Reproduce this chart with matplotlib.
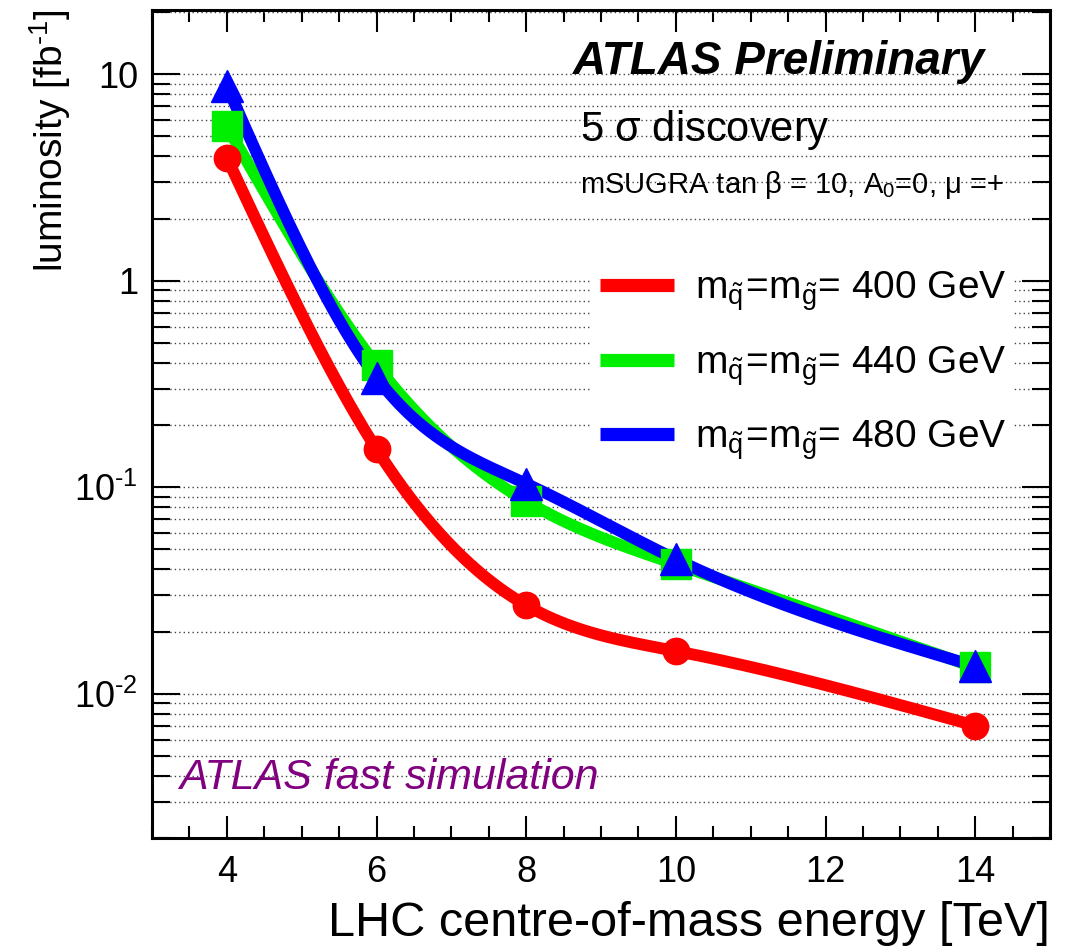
import matplotlib
matplotlib.use("Agg")
import matplotlib.pyplot as plt
from matplotlib.ticker import LogLocator, MultipleLocator, FixedLocator, FixedFormatter, NullFormatter
import numpy as np

plt.rcParams['font.family'] = ['Liberation Sans', 'DejaVu Sans']
plt.rcParams['mathtext.fontset'] = 'custom'
plt.rcParams['mathtext.rm'] = 'Liberation Sans'
plt.rcParams['mathtext.it'] = 'Liberation Sans:italic'
plt.rcParams['mathtext.bf'] = 'Liberation Sans:bold'

# centre-of-mass energy [TeV]
energy = [4, 6, 8, 10, 14]
# 5 sigma discovery luminosity [fb^-1]
lumi_400 = [3.95, 0.153, 0.0268, 0.0161, 0.0070]
lumi_440 = [5.6, 0.39, 0.0855, 0.0424, 0.0134]
lumi_480 = [8.8, 0.34, 0.104, 0.0448, 0.0136]
labels = [r'$\mathrm{m}_{\tilde{\mathrm{q}}}\!=\!\mathrm{m}_{\tilde{\mathrm{g}}}$= 400 GeV',
          r'$\mathrm{m}_{\tilde{\mathrm{q}}}\!=\!\mathrm{m}_{\tilde{\mathrm{g}}}$= 440 GeV',
          r'$\mathrm{m}_{\tilde{\mathrm{q}}}\!=\!\mathrm{m}_{\tilde{\mathrm{g}}}$= 480 GeV']
ytick_vals = [0.01, 0.1, 1, 10]
ytick_labels = [r'10$^{\text{-}2}$', r'10$^{\text{-}1}$', '1', '10']


def smooth(x, y, n=300):
    # natural cubic spline in (x, log y), like ROOT's "C" draw option
    x = np.asarray(x, float)
    ly = np.log10(np.asarray(y, float))
    h = np.diff(x)
    m = len(x)
    A = np.zeros((m, m))
    b = np.zeros(m)
    A[0, 0] = A[-1, -1] = 1
    for i in range(1, m - 1):
        A[i, i - 1] = h[i - 1]
        A[i, i] = 2 * (h[i - 1] + h[i])
        A[i, i + 1] = h[i]
        b[i] = 6 * ((ly[i + 1] - ly[i]) / h[i] - (ly[i] - ly[i - 1]) / h[i - 1])
    M = np.linalg.solve(A, b)
    xs = np.linspace(x[0], x[-1], n)
    k = np.clip(np.searchsorted(x, xs) - 1, 0, m - 2)
    t0 = x[k + 1] - xs
    t1 = xs - x[k]
    hk = h[k]
    ys = (M[k] * t0**3 + M[k + 1] * t1**3) / (6 * hk) \
        + (ly[k] / hk - M[k] * hk / 6) * t0 + (ly[k + 1] / hk - M[k + 1] * hk / 6) * t1
    return xs, 10**ys


fig = plt.figure(figsize=(10.65, 9.48), dpi=100)
ax = fig.add_axes([0.1427, 0.116, 0.8433, 0.8735])
ax.set_yscale('log')
ax.set_xlim(3, 15)
ax.set_ylim(0.002, 20.5)

series = [(lumi_400, '#ff0000', 'o', 19),
          (lumi_440, '#00ee00', 's', 21),
          (lumi_480, '#0000ff', '^', 23)]
handles = []
for (vals, col, mk, ms), lab in zip(series, labels):
    xs, ys = smooth(energy, vals)
    ax.plot(xs, ys, color=col, lw=8.5, solid_capstyle='round', zorder=3)
    ax.plot(energy, vals, ls='none', marker=mk, ms=ms, color=col, zorder=4)
    h, = ax.plot([], [], color=col, lw=9.5, solid_capstyle='butt', label=lab)
    handles.append(h)

# axes styling
ax.xaxis.set_major_locator(MultipleLocator(2))
ax.xaxis.set_minor_locator(MultipleLocator(0.5))
ax.yaxis.set_minor_locator(LogLocator(base=10, subs=np.arange(2, 10)))
ax.yaxis.set_minor_formatter(NullFormatter())
ax.yaxis.set_major_locator(FixedLocator(ytick_vals))
ax.yaxis.set_major_formatter(FixedFormatter(ytick_labels))
ax.tick_params(axis='both', which='both', direction='in', top=True, right=True,
               width=1.5, colors='black')
ax.tick_params(axis='x', which='major', length=16, pad=12, labelsize=26)
ax.tick_params(axis='x', which='minor', length=8.5)
ax.tick_params(axis='y', which='major', length=20, pad=10, labelsize=26)
ax.tick_params(axis='y', which='minor', length=13)
for sp in ax.spines.values():
    sp.set_linewidth(2.2)

ax.grid(True, axis='y', which='both', color='#444444', lw=1.0, ls=(0, (1, 2.2)), zorder=0)
ax.set_axisbelow(True)

ax.set_xlabel('LHC centre-of-mass energy [TeV]', fontsize=35, loc='right', labelpad=8)
ax.set_ylabel(r'luminosity [fb$^{\text{-}1}$]', fontsize=28, loc='top')
ax.yaxis.set_label_coords(-0.088, 1.0)

ax.text(0.928, 0.937, 'ATLAS Preliminary', transform=ax.transAxes, ha='right', va='center',
        fontsize=33, fontweight='bold', fontstyle='italic')
ax.text(0.477, 0.855, r'5 $\mathregular{\sigma}$ discovery', transform=ax.transAxes, ha='left',
        va='center', fontsize=30)
ax.text(0.477, 0.789, r'mSUGRA tan $\mathregular{\beta}$ = 10, A$_{\mathregular{0}}$=0, $\mathregular{\mu}$ =+',
        transform=ax.transAxes, ha='left', va='center', fontsize=21)
ax.text(0.03, 0.072, 'ATLAS fast simulation', transform=ax.transAxes, ha='left', va='center',
        fontsize=31, fontstyle='italic', color='#800080')

leg = ax.legend(handles=handles, loc='upper right', bbox_to_anchor=(0.982, 0.72),
                fontsize=28, frameon=True, fancybox=False, edgecolor='none', facecolor='white',
                framealpha=1, handlelength=1.9, handletextpad=0.55, labelspacing=0.8,
                borderpad=0.2)

fig.savefig('out.png', dpi=100)
